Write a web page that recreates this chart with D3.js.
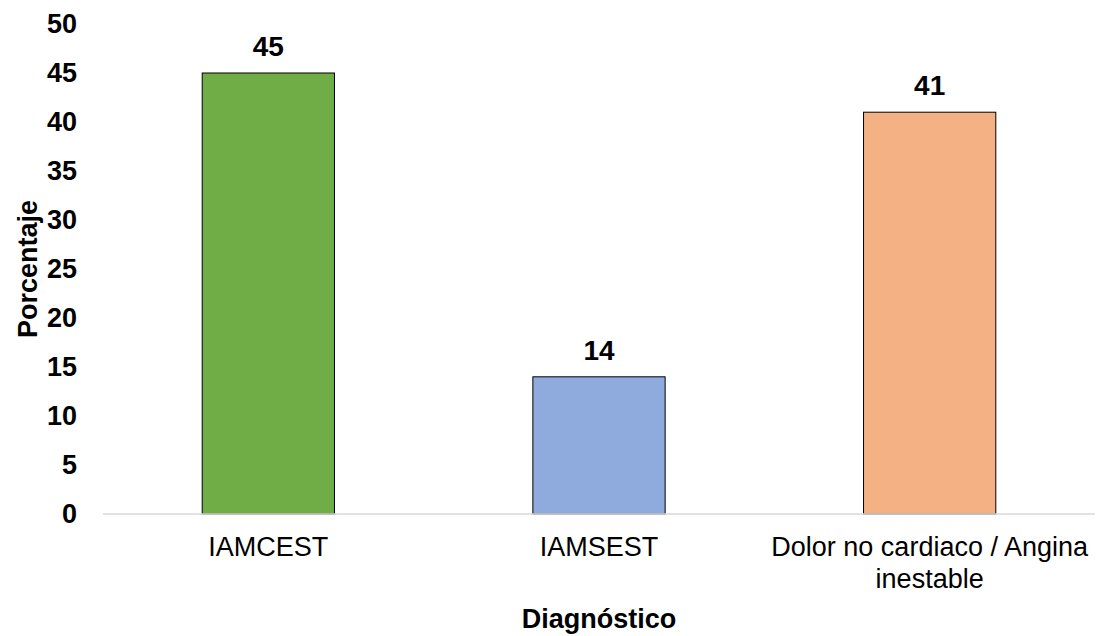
<!DOCTYPE html>
<html>
<head>
<meta charset="utf-8">
<script src="https://cdn.jsdelivr.net/npm/d3@7"></script>
<style>
  body { margin: 0; background: #fff; }
  svg text { font-family: "Liberation Sans", Arial, sans-serif; }
</style>
</head>
<body>
<svg id="chart" width="1099" height="636"></svg>
<script>
const categories = ['IAMCEST', 'IAMSEST', 'Dolor no cardiaco / Angina inestable'];
const values = [45, 14, 41];
const barColors = ['#70AD47', '#8FAADC', '#F4B183'];
const yTicks = [0, 5, 10, 15, 20, 25, 30, 35, 40, 45, 50];

const svg = d3.select('#chart'),
  margin = { top: 24, right: 4, bottom: 122, left: 103 },
  width = 1099 - margin.left - margin.right,
  height = 636 - margin.top - margin.bottom;

const g = svg.append('g').attr('transform', 'translate(' + margin.left + ',' + margin.top + ')');

const x = d3.scaleBand().domain(categories).range([0, width]).paddingInner(0.6).paddingOuter(0.3);
const y = d3.scaleLinear().domain([0, 50]).range([height, 0]);

// y tick labels only, no axis line
const yAxis = g.append('g').call(d3.axisLeft(y).tickValues(yTicks).tickSize(0).tickPadding(26));
yAxis.select('.domain').remove();
yAxis.selectAll('text')
  .attr('font-size', 27).attr('font-weight', 'bold').attr('fill', '#000')
  .style('font-family', '"Liberation Sans", Arial, sans-serif');

g.selectAll('.bar')
  .data(values)
  .enter()
  .append('rect')
  .attr('class', 'bar')
  .attr('x', (d, i) => x(categories[i]))
  .attr('y', d => y(d))
  .attr('width', x.bandwidth())
  .attr('height', d => height - y(d))
  .attr('fill', (d, i) => barColors[i])
  .attr('stroke', '#000')
  .attr('stroke-width', 1);

g.append('line')
  .attr('x1', 0).attr('x2', width)
  .attr('y1', height).attr('y2', height)
  .attr('stroke', '#d9d9d9').attr('stroke-width', 1.5);

g.selectAll('.val')
  .data(values)
  .enter()
  .append('text')
  .attr('x', (d, i) => x(categories[i]) + x.bandwidth() / 2)
  .attr('y', d => y(d) - 17)
  .attr('text-anchor', 'middle')
  .attr('font-size', 28)
  .attr('font-weight', 'bold')
  .text(d => d);

// category labels, wrapped like the original
const catLines = [['IAMCEST'], ['IAMSEST'], ['Dolor no cardiaco / Angina', 'inestable']];
categories.forEach(function (c, i) {
  const t = g.append('text')
    .attr('x', x(c) + x.bandwidth() / 2)
    .attr('y', height + 42)
    .attr('text-anchor', 'middle')
    .attr('font-size', 27);
  catLines[i].forEach(function (line, j) {
    t.append('tspan')
      .attr('x', x(c) + x.bandwidth() / 2)
      .attr('dy', j === 0 ? 0 : 32)
      .text(line);
  });
});

svg.append('text')
  .attr('x', margin.left + width / 2)
  .attr('y', 628)
  .attr('text-anchor', 'middle')
  .attr('font-size', 27)
  .attr('font-weight', 'bold')
  .text('Diagnóstico');

svg.append('text')
  .attr('transform', 'translate(37,' + (margin.top + height / 2) + ') rotate(-90)')
  .attr('text-anchor', 'middle')
  .attr('font-size', 27)
  .attr('font-weight', 'bold')
  .text('Porcentaje');
</script>
</body>
</html>
